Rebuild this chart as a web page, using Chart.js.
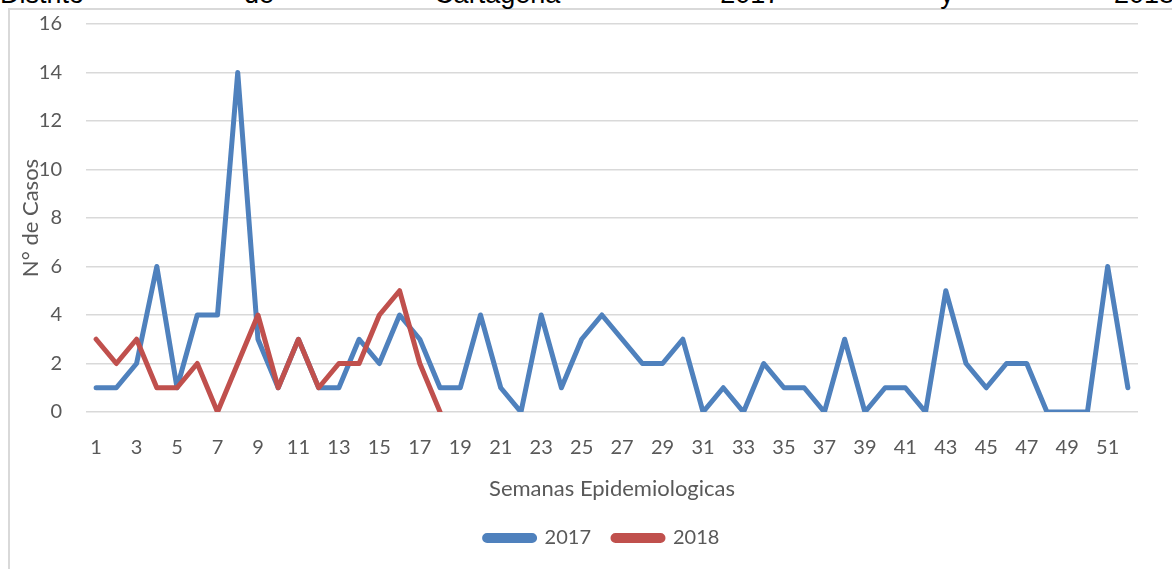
<!DOCTYPE html>
<html><head><meta charset="utf-8">
<script src="https://cdn.jsdelivr.net/npm/chart.js@4/dist/chart.umd.min.js"></script>
<style>
html,body{margin:0;padding:0;background:#fff;overflow:hidden;width:1172px;height:569px;}
#wrap{position:relative;width:1172px;height:569px;overflow:hidden;}
#frame{position:absolute;left:8px;top:8px;width:1200px;height:600px;border-left:2px solid #d9d9d9;border-top:2px solid #d9d9d9;}
#title{position:absolute;left:0;top:-19px;width:1174px;display:flex;justify-content:space-between;font:27px/27px "Liberation Sans",Arial,sans-serif;color:#000;white-space:nowrap;}
canvas{position:absolute;left:0;top:0;}
</style></head>
<body><div id="wrap"><div id="frame"></div>
<div id="title"><span>Distrito</span><span>de</span><span>Cartagena</span><span>2017</span><span>y</span><span>2018</span></div>
<canvas id="c" width="1172" height="569"></canvas></div>
<script>
const weeks = ['1','2','3','4','5','6','7','8','9','10','11','12','13','14','15','16','17','18','19','20','21','22','23','24','25','26','27','28','29','30','31','32','33','34','35','36','37','38','39','40','41','42','43','44','45','46','47','48','49','50','51','52'];
const cases2017 = [1,1,2,6,1,4,4,14,3,1,3,1,1,3,2,4,3,1,1,4,1,0,4,1,3,4,3,2,2,3,0,1,0,2,1,1,0,3,0,1,1,0,5,2,1,2,2,0,0,0,6,1];
const cases2018 = [3,2,3,1,1,2,0,2,4,1,3,1,2,2,4,5,2,0];
const yTicks = [0,2,4,6,8,10,12,14,16];
const seriesNames = ['2017','2018'];

const FONT = 'Lato';
const GRAY = '#595959';
const legendShift = {
  id: 'legendShift',
  afterLayout(chart) {
    if (chart.legend) { chart.legend.left += 33; chart.legend.right += 33; }
  }
};
new Chart(document.getElementById('c'), {
  type: 'line',
  data: {
    labels: weeks,
    datasets: [
      {label: seriesNames[0], data: cases2017, borderColor: '#4F81BD', backgroundColor: '#4F81BD', borderWidth: 5, pointRadius: 0, tension: 0, borderJoinStyle: 'round', borderCapStyle: 'round', order: 1},
      {label: seriesNames[1], data: cases2018, borderColor: '#C0504D', backgroundColor: '#C0504D', borderWidth: 5, pointRadius: 0, tension: 0, borderJoinStyle: 'round', borderCapStyle: 'round', order: 0}
    ]
  },
  plugins: [legendShift],
  options: {
    responsive: false,
    devicePixelRatio: 1,
    animation: false,
    layout: {padding: {left: 0, top: 24, right: 34, bottom: 11}},
    plugins: {
      tooltip: {enabled: false},
      legend: {
        position: 'bottom',
        labels: {
          boxWidth: 50, boxHeight: 5, padding: 22, color: GRAY,
          font: {family: FONT, size: 20},
          useBorderRadius: true, borderRadius: 2.5,
          sort: (a, b) => a.datasetIndex - b.datasetIndex
        }
      }
    },
    scales: {
      x: {
        offset: true,
        grid: {display: false, drawTicks: false},
        border: {display: false},
        ticks: {
          autoSkip: false, maxRotation: 0, minRotation: 0, padding: 24, color: GRAY,
          font: {family: FONT, size: 20},
          callback: (v, i) => (i % 2 === 0 ? weeks[i] : '')
        },
        title: {display: true, text: 'Semanas Epidemiologicas', color: GRAY, font: {family: FONT, size: 22}, padding: {top: 18, bottom: 4}},
        afterFit: s => { s.height = 94; s.paddingLeft = 0; s.paddingRight = 0; }
      },
      y: {
        min: 0, max: 16,
        afterBuildTicks: s => { s.ticks = yTicks.map(v => ({value: v})); },
        grid: {color: '#d9d9d9', lineWidth: 1.5, drawTicks: false},
        border: {display: false},
        ticks: {padding: 24, color: GRAY, font: {family: FONT, size: 20}},
        title: {display: true, text: 'N° de Casos', color: GRAY, font: {family: FONT, size: 22}, padding: {top: 18, bottom: 0}},
        afterFit: s => { s.width = 86; s.paddingTop = 0; s.paddingBottom = 0; }
      }
    }
  }
});
</script></body></html>
